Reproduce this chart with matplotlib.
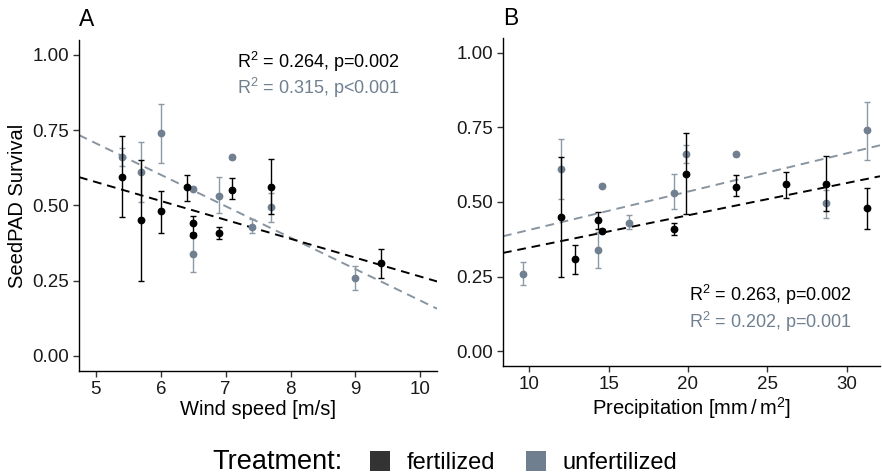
import numpy as np
import matplotlib
matplotlib.use('Agg')
import matplotlib.pyplot as plt
from matplotlib.patches import Patch

plt.rcParams['font.family'] = ['Liberation Sans', 'DejaVu Sans']
plt.rcParams['mathtext.fontset'] = 'custom'
plt.rcParams['mathtext.rm'] = 'Liberation Sans'
plt.rcParams['mathtext.default'] = 'regular'

# Datos: fertilizado
wind_fert = [5.4, 5.7, 6.0, 6.4, 6.5, 6.5, 6.9, 7.1, 7.7, 9.4]
precip_fert = [19.9, 12.0, 31.3, 26.2, 14.3, 14.6, 19.1, 23.0, 28.7, 12.9]
surv_fert = [0.595, 0.45, 0.48, 0.56, 0.44, 0.403, 0.41, 0.55, 0.56, 0.31]
lo_fert = [0.46, 0.25, 0.41, 0.515, 0.41, 0.40, 0.39, 0.52, 0.47, 0.26]
hi_fert = [0.73, 0.65, 0.548, 0.60, 0.466, 0.41, 0.43, 0.59, 0.655, 0.355]

# No fertilizado
wind_unf = [5.4, 5.7, 6.0, 6.5, 6.5, 6.9, 7.1, 7.4, 7.7, 9.0]
precip_unf = [19.9, 12.0, 31.3, 14.6, 14.3, 19.1, 23.0, 16.3, 28.7, 9.6]
surv_unf = [0.66, 0.61, 0.74, 0.555, 0.34, 0.53, 0.66, 0.43, 0.495, 0.26]
lo_unf = [0.63, 0.51, 0.64, 0.55, 0.28, 0.475, 0.655, 0.41, 0.445, 0.22]
hi_unf = [0.69, 0.71, 0.837, 0.56, 0.40, 0.595, 0.665, 0.455, 0.54, 0.30]

# Rectas de regresion (pendiente, intercepto)
fit_wind_fert = (-0.0628, 0.8917)
fit_wind_unf = (-0.1045, 1.229)
fit_precip_fert = (0.01082, 0.239)
fit_precip_unf = (0.01284, 0.278)

stats_wind = ['R$^2$ = 0.264, p=0.002', 'R$^2$ = 0.315, p<0.001']
stats_precip = ['R$^2$ = 0.263, p=0.002', 'R$^2$ = 0.202, p=0.001']

c_fert = 'black'
c_unf = '#708090'
c_unf_bar = '#8e99a4'

fig = plt.figure(figsize=(8.82, 4.75), dpi=100)
axA = fig.add_axes([0.0896, 0.219, 0.406, 0.697])
axB = fig.add_axes([0.5703, 0.2295, 0.4274, 0.6905])


def panel(ax, x_f, x_u, fit_f, fit_u, xlim, stats, txt_x, txt_y):
    xs = np.array(xlim)
    ax.plot(xs, fit_u[0] * xs + fit_u[1], color='#8894a0', lw=1.4,
            dashes=(4.5, 3), zorder=2)
    ax.plot(xs, fit_f[0] * xs + fit_f[1], color='black', lw=1.4,
            dashes=(4.5, 3), zorder=2)
    yu = np.array(surv_unf)
    ax.errorbar(x_u, yu, yerr=[yu - np.array(lo_unf), np.array(hi_unf) - yu],
                fmt='o', color=c_unf, ecolor=c_unf_bar, ms=4.6, elinewidth=1,
                capsize=2.2, capthick=1, zorder=3)
    yf = np.array(surv_fert)
    ax.errorbar(x_f, yf, yerr=[yf - np.array(lo_fert), np.array(hi_fert) - yf],
                fmt='o', color=c_fert, ecolor='black', ms=4.6, elinewidth=1,
                capsize=2.2, capthick=1, zorder=4)
    ax.text(txt_x, txt_y[0], stats[0], color='black', fontsize=13, va='baseline')
    ax.text(txt_x, txt_y[1], stats[1], color=c_unf, fontsize=13, va='baseline')
    ax.set_xlim(xlim)
    ax.set_ylim(-0.05, 1.05)
    ax.set_yticks([0, 0.25, 0.5, 0.75, 1.0])
    ax.set_yticklabels(['0.00', '0.25', '0.50', '0.75', '1.00'])
    for s in ['top', 'right']:
        ax.spines[s].set_visible(False)
    for s in ['left', 'bottom']:
        ax.spines[s].set_linewidth(1.0)
    ax.tick_params(labelsize=13.5, length=4, width=1, colors='#333333',
                   labelcolor='#1a1a1a', pad=3)


panel(axA, wind_fert, wind_unf, fit_wind_fert, fit_wind_unf, (4.74, 10.26),
      stats_wind, 7.18, (0.957, 0.869))
axA.set_xticks([5, 6, 7, 8, 9, 10])
axA.set_xlabel('Wind speed [m/s]', fontsize=14.5, labelpad=2)
axA.set_ylabel('SeedPAD Survival', fontsize=14.5, labelpad=4)
axA.set_title('A', loc='left', fontsize=16.5, pad=10)

panel(axB, precip_fert, precip_unf, fit_precip_fert, fit_precip_unf, (8.34, 32.1),
      stats_precip, 20.08, (0.168, 0.079))
axB.set_xticks([10, 15, 20, 25, 30])
axB.set_xlabel('Precipitation [mm$\\,/\\,$m$^2$]', fontsize=14.5, labelpad=2)
axB.set_title('B', loc='left', fontsize=16.5, pad=9.5)

# Leyenda
fig.text(212 / 882, 0.027, 'Treatment:', fontsize=19.5, va='center', ha='left')
handles = [Patch(facecolor='#333333', edgecolor='none', label='fertilized'),
           Patch(facecolor='#6f7f8f', edgecolor='none', label='unfertilized')]
fig.legend(handles=handles, loc='center left', bbox_to_anchor=(370 / 882, 0.027),
           ncol=2, frameon=False, fontsize=17, borderpad=0, borderaxespad=0,
           handlelength=0.85, handleheight=0.93, handletextpad=0.72,
           columnspacing=1.27)

fig.savefig('out.png', dpi=100)
